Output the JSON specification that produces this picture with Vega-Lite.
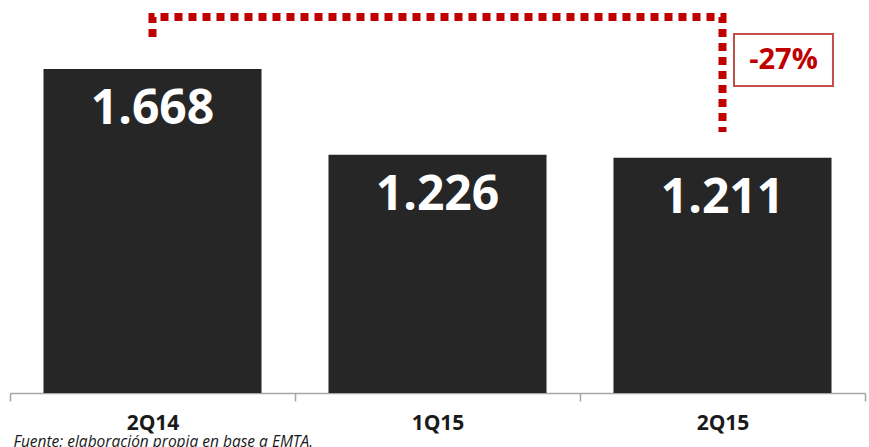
{
  "$schema": "https://vega.github.io/schema/vega-lite/v6.json",
  "width": 855,
  "height": 393,
  "autosize": {"type": "none"},
  "padding": {"left": 10, "top": 0, "right": 4, "bottom": 54},
  "background": "white",
  "config": {"view": {"stroke": null}},
  "datasets": {
    "bars": [
      {"period": "2Q14", "value": 1668, "label": "1.668"},
      {"period": "1Q15", "value": 1226, "label": "1.226"},
      {"period": "2Q15", "value": 1211, "label": "1.211"}
    ],
    "bracket": [
      {"period": "2Q14", "level": 1832, "step": 1},
      {"period": "2Q14", "level": 1935, "step": 2},
      {"period": "2Q15", "level": 1935, "step": 3},
      {"period": "2Q15", "level": 1343, "step": 4}
    ],
    "note": [
      {"period": "2Q15", "level": 1714, "text": "-27%"}
    ]
  },
  "encoding": {
    "x": {
      "field": "period",
      "type": "nominal",
      "sort": ["2Q14", "1Q15", "2Q15"],
      "scale": {"paddingInner": 0, "paddingOuter": 0},
      "axis": {
        "title": "Fuente: elaboración propia en base a EMTA.",
        "titleFont": "Open Sans",
        "titleFontSize": 15.5,
        "titleFontStyle": "italic",
        "titleFontWeight": "normal",
        "titleColor": "#1a1a1a",
        "titleAnchor": "start",
        "titleAlign": "left",
        "titleBaseline": "alphabetic",
        "titleX": 3,
        "titleY": 53,
        "labelAngle": 0,
        "labelFont": "Open Sans",
        "labelFontSize": 21,
        "labelFontWeight": "bold",
        "labelColor": "#1a1a1a",
        "labelPadding": 11,
        "domainColor": "#a6a6a6",
        "domainWidth": 1.5,
        "tickColor": "#a6a6a6",
        "tickWidth": 1.5,
        "tickSize": 8,
        "tickBand": "extent"
      }
    }
  },
  "layer": [
    {
      "data": {"name": "bars"},
      "mark": {"type": "bar", "color": "#262626", "width": {"band": 0.765}},
      "encoding": {
        "y": {"field": "value", "type": "quantitative", "scale": {"domain": [0, 2023], "nice": false}, "axis": null}
      }
    },
    {
      "data": {"name": "bars"},
      "mark": {"type": "text", "color": "white", "font": "Open Sans", "fontWeight": "bold", "fontSize": 48, "baseline": "middle", "dy": 41},
      "encoding": {
        "y": {"field": "value", "type": "quantitative"},
        "text": {"field": "label"}
      }
    },
    {
      "data": {"name": "bracket"},
      "mark": {"type": "line", "color": "#c00000", "strokeWidth": 8, "strokeDash": [8, 6], "strokeCap": "butt", "strokeJoin": "miter"},
      "encoding": {
        "y": {"field": "level", "type": "quantitative"},
        "order": {"field": "step"}
      }
    },
    {
      "data": {"name": "note"},
      "mark": {"type": "point", "shape": "M0.232,-0.525 L2.232,-0.525 L2.232,0.525 L0.232,0.525 Z", "size": 9801, "filled": true, "fill": "white", "stroke": "#c0504d", "strokeWidth": 2, "opacity": 1},
      "encoding": {
        "y": {"field": "level", "type": "quantitative"}
      }
    },
    {
      "data": {"name": "note"},
      "mark": {"type": "text", "color": "#c00000", "font": "Open Sans", "fontWeight": "bold", "fontSize": 29, "baseline": "middle", "dx": 61},
      "encoding": {
        "y": {"field": "level", "type": "quantitative"},
        "text": {"field": "text"}
      }
    }
  ]
}
